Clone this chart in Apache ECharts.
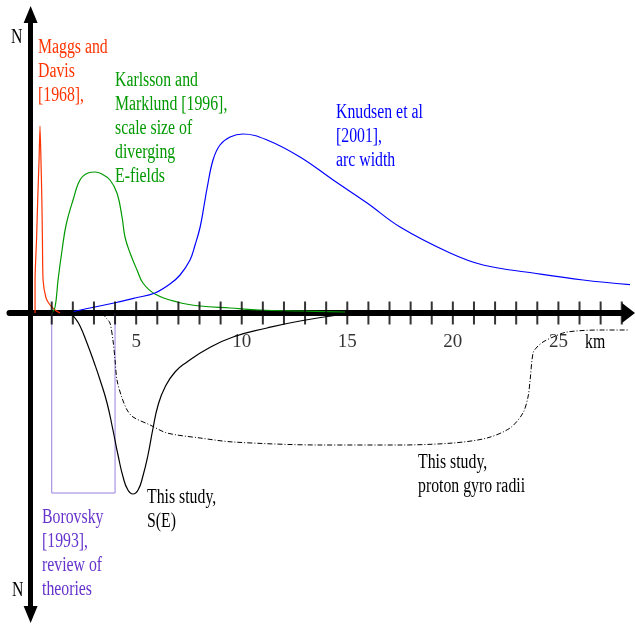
<!DOCTYPE html>
<html><head><meta charset="utf-8">
<script src="https://cdn.jsdelivr.net/npm/echarts@6/dist/echarts.min.js"></script>
<style>html,body{margin:0;padding:0;background:#fff}#c{width:635px;height:624px}</style>
</head><body><div id="c"></div>
<script>
// tick positions (km) and labelled ticks
const tickValues = [1,2,3,4,5,6,7,8,9,10,11,12,13,14,15,16,17,18,19,20,21,22,23,24,25,26,27,28];
const tickLabels = [5,10,15,20,25];

// curves: [km, N (arbitrary units; positive up, negative down)]
const maggsDavis = [[0.21,0],[0.21,33],[0.28,73],[0.34,116],[0.40,153],[0.445,187],[0.49,153],[0.53,116],[0.56,73],[0.59,33],[0.73,15],[0.92,8],[1.16,3],[1.39,0]];
const karlssonMarklund = [[1.01,0],[1.16,6],[1.30,33],[1.49,63],[1.68,88],[2.01,113],[2.34,133],[2.72,140],[3.05,141],[3.38,139],[3.76,133],[4.09,120],[4.33,96],[4.47,76],[4.71,60],[5.04,43],[5.32,30],[5.89,19],[6.94,11],[8.03,7],[9.45,5],[10.87,3],[12.76,2],[14.89,1]];
const knudsen = [[1.96,1],[2.81,5],[3.95,10],[4.95,15],[5.89,20],[6.60,29],[7.08,38],[7.55,53],[7.79,68],[8.03,86],[8.22,108],[8.36,125],[8.64,153],[8.97,168],[9.45,176],[10.06,179],[11.20,173],[12.76,156],[14.33,133],[15.94,110],[17.50,86],[19.87,60],[21.43,48],[23.80,40],[26.17,33],[28.54,28]];
const studySE = [[1.87,0],[2.10,-5],[2.34,-13],[2.67,-30],[3.00,-49],[3.29,-67],[3.62,-90],[3.90,-117],[4.14,-142],[4.38,-164],[4.61,-177],[4.85,-181],[5.09,-177],[5.32,-163],[5.56,-142],[5.80,-115],[6.04,-92],[6.37,-74],[6.84,-59],[7.41,-49],[8.36,-36],[9.59,-24],[11.20,-15],[12.76,-8],[14.89,-1]];
const protonGyro = [[3.38,0],[3.62,-6],[3.76,-10],[3.90,-27],[4.00,-47],[4.09,-67],[4.33,-85],[4.57,-97],[4.85,-104],[5.66,-112],[6.46,-120],[8.03,-125],[9.59,-129],[13.71,-132],[17.50,-132],[20.01,-130],[21.62,-125],[22.71,-115],[23.32,-100],[23.56,-84],[23.66,-67],[23.80,-40],[23.99,-34],[24.27,-29],[24.75,-24],[25.41,-19],[26.97,-17],[28.63,-17]];
const borovskyBox = [[1,0],[1,-180],[4,-180],[4,0]];

const FONT = '20px "Liberation Serif", "Times New Roman", serif';
function label(text, x, y, color) {
  return {type:'text', x:x, y:y, scaleX:0.79, z:100,
    style:{text:text, fill:color, font:FONT, lineHeight:24, align:'left', verticalAlign:'top'}};
}

const chart = echarts.init(document.getElementById('c'), null, {renderer:'canvas'});
function lineSeries(name, data, color, extra) {
  return Object.assign({name:name, type:'line', data:data, symbol:'none', smooth:0.3,
    lineStyle:{color:color, width:1.2}, itemStyle:{color:color}, z:2}, extra||{});
}
chart.setOption({
  animation:false,
  grid:{left:9.5, right:6.5, top:14.5, bottom:9.5, containLabel:false, outerBoundsMode:'none'},
  xAxis:{type:'value', min:-1, max:28.32,
    axisLine:{show:true, onZero:true, symbol:['none','triangle'], symbolSize:[20,13], lineStyle:{color:'#000', width:6}},
    axisTick:{show:false}, axisLabel:{show:false}, splitLine:{show:false}},
  yAxis:{type:'value', min:-301.5, max:298.5,
    axisLine:{show:true, onZero:true, symbol:['triangle','triangle'], symbolSize:[14,17], lineStyle:{color:'#000', width:5}},
    axisTick:{show:false}, axisLabel:{show:false}, splitLine:{show:false}},
  graphic: [
    label('N', 11, 26, '#000'),
    label('N', 12, 579, '#000'),
    label('km', 585, 331, '#000'),
    label('Maggs and\nDavis\n[1968],', 38, 36, '#ff3300'),
    label('Karlsson and\nMarklund [1996],\nscale size of\ndiverging\nE-fields', 115, 69, '#009900'),
    label('Knudsen et al\n[2001],\narc width', 336, 101, '#0000ff'),
    label('This study,\nS(E)', 147, 486, '#000'),
    label('This study,\nproton gyro radii', 418, 451, '#000'),
    label('Borovsky\n[1993],\nreview of\ntheories', 42, 506, '#6633cc')
  ],
  series:[
    lineSeries('Borovsky [1993]', borovskyBox, '#9980e0', {smooth:false, lineStyle:{color:'#9980e0', width:1}}),
    lineSeries('Maggs and Davis [1968]', maggsDavis, '#ff3300', {smooth:0.2}),
    lineSeries('Karlsson and Marklund [1996]', karlssonMarklund, '#009900', {smooth:0.4}),
    lineSeries('Knudsen et al [2001]', knudsen, '#0000ff', {clip:false, smooth:0.4}),
    lineSeries('This study, S(E)', studySE, '#000000', {smooth:0.5}),
    lineSeries('This study, proton gyro radii', protonGyro, '#000000', {clip:false, lineStyle:{color:'#000', width:1, type:[5,2,1,2]}}),
    {name:'ticks', type:'scatter', data:tickValues.map(v=>[v,0]), symbol:'rect', symbolSize:[2,23],
      itemStyle:{color:'#000'}, z:5, silent:true},
    {name:'tick labels', type:'scatter', data:tickLabels.map(v=>[v,0]), symbolSize:0, silent:true, z:5,
      label:{show:true, position:'bottom', distance:20, formatter:p=>String(p.value[0]),
        color:'#000', fontSize:19, fontFamily:'"Liberation Serif", serif'}}
  ]
});
</script></body></html>
